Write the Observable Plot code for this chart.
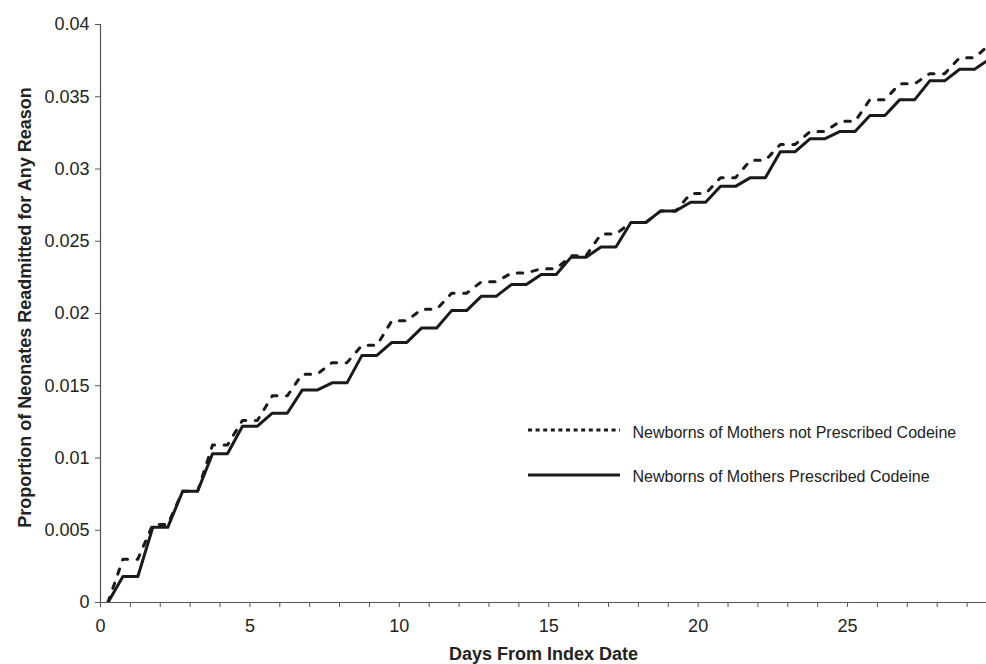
<!DOCTYPE html>
<html>
<head>
<meta charset="utf-8">
<script src="https://cdn.jsdelivr.net/npm/d3@7"></script>
<script src="https://cdn.jsdelivr.net/npm/@observablehq/plot@0.6"></script>
<style>
  html, body { margin: 0; padding: 0; background: #fff; }
  #chart { width: 986px; height: 664px; }
</style>
</head>
<body>
<div id="chart"></div>
<script>
// Step index (day) and readmission proportion at each step
const steps = d3.range(0, 31);
const prescribedCodeine = [0, 0.0018, 0.0052, 0.0077, 0.0103, 0.0122, 0.0131, 0.0147, 0.0152, 0.0171,
  0.0180, 0.0190, 0.0202, 0.0212, 0.0220, 0.0227, 0.0239, 0.0246, 0.0263, 0.0271,
  0.0277, 0.0288, 0.0294, 0.0312, 0.0321, 0.0326, 0.0337, 0.0348, 0.0361, 0.0369, 0.0376];
const notPrescribedCodeine = [0, 0.0030, 0.0054, 0.0077, 0.0109, 0.0126, 0.0143, 0.0158, 0.0166, 0.0178,
  0.0195, 0.0203, 0.0214, 0.0222, 0.0228, 0.0231, 0.0240, 0.0255, 0.0263, 0.0271,
  0.0283, 0.0294, 0.0306, 0.0317, 0.0326, 0.0333, 0.0348, 0.0359, 0.0366, 0.0377, 0.0386];
const seriesNames = ["Newborns of Mothers not Prescribed Codeine", "Newborns of Mothers Prescribed Codeine"];
const xTicks = d3.range(0, 30);
const yTicks = [0, 0.005, 0.01, 0.015, 0.02, 0.025, 0.03, 0.035, 0.04];
const xLabel = "Days From Index Date";
const yLabel = "Proportion of Neonates Readmitted for Any Reason";

// Each day's value holds flat over a half-day around the day, with a ramp between days
function stepPath(values) {
  const pts = [];
  steps.forEach((d, i) => {
    if (i === 0) pts.push({x: d + 0.25, y: values[i]});
    else { pts.push({x: d - 0.25, y: values[i]}); pts.push({x: d + 0.25, y: values[i]}); }
  });
  return pts;
}

const font = "'Liberation Sans', Arial, Helvetica, sans-serif";
const axisColor = "#555";
const ink = "#1a1a1a";

const chart = Plot.plot({
  width: 986,
  height: 664,
  marginLeft: 100,
  marginRight: 0,
  marginTop: 24,
  marginBottom: 62,
  style: {fontFamily: font, fontSize: "18px", color: "#222", background: "#fff", overflow: "visible"},
  x: {domain: [0, 29.65]},
  y: {domain: [0, 0.04]},
  marks: [
    Plot.axisY({ticks: yTicks, tickSize: 5, tickPadding: 6, stroke: axisColor, fill: "#222", fontSize: 18,
      tickFormat: d => String(+d.toFixed(3)), label: null}),
    Plot.axisX({ticks: xTicks, tickSize: 5, tickPadding: 12, stroke: axisColor, fill: "#222", fontSize: 18,
      tickFormat: d => d % 5 === 0 ? String(d) : "", label: null}),
    Plot.ruleX([0], {stroke: axisColor, strokeWidth: 1.2}),
    Plot.ruleY([0], {stroke: axisColor, strokeWidth: 1.2}),
    Plot.line(stepPath(notPrescribedCodeine), {x: "x", y: "y", stroke: ink, strokeWidth: 3,
      strokeDasharray: "5.5,9.5", clip: true}),
    Plot.line(stepPath(prescribedCodeine), {x: "x", y: "y", stroke: ink, strokeWidth: 3, clip: true}),
    Plot.text([xLabel], {frameAnchor: "bottom", lineAnchor: "middle", dy: 52, fontWeight: "bold", fontSize: 18, fill: "#222"}),
    Plot.text([yLabel], {frameAnchor: "left", textAnchor: "middle", lineAnchor: "middle", dx: -75, dy: -6,
      rotate: -90, fontWeight: "bold", fontSize: 18, fill: "#222"}),
    Plot.text([seriesNames[0]], {frameAnchor: "top-left", lineAnchor: "middle", dx: 532, dy: 408,
      textAnchor: "start", fontSize: 16, fill: "#222"}),
    Plot.text([seriesNames[1]], {frameAnchor: "top-left", lineAnchor: "middle", dx: 532, dy: 452,
      textAnchor: "start", fontSize: 16, fill: "#222"})
  ]
});

// Legend swatches
const svg = d3.select(chart);
svg.append("line").attr("x1", 528).attr("x2", 620).attr("y1", 430).attr("y2", 430)
  .attr("stroke", ink).attr("stroke-width", 3).attr("stroke-dasharray", "4,3.6");
svg.append("line").attr("x1", 528).attr("x2", 620).attr("y1", 475).attr("y2", 475)
  .attr("stroke", ink).attr("stroke-width", 3);

document.getElementById("chart").appendChild(chart);
</script>
</body>
</html>
